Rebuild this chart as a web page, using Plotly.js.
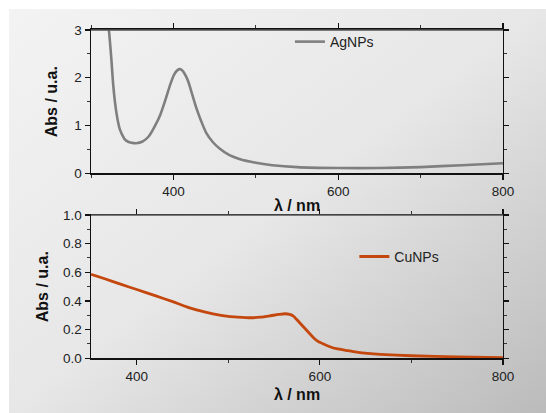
<!DOCTYPE html>
<html>
<head>
<meta charset="utf-8">
<script src="https://cdn.plot.ly/plotly-3.0.1.min.js"></script>
<style>
  html, body { margin: 0; padding: 0; background: #ffffff; }
  #wrap { position: relative; width: 546px; height: 413px; overflow: hidden; }
  #bg { position: absolute; left: 9px; top: 9px; width: 537px; height: 404px;
        background: linear-gradient(to bottom right, #f3f3f3 0%, #e7e7e7 50%, #bbbbbb 100%); }
  #chart { position: absolute; left: 0; top: 0; width: 546px; height: 413px; }
</style>
</head>
<body>
<div id="wrap"><div id="bg"></div><div id="chart"></div></div>
<script>
// AgNPs spectrum (top panel)
const agWavelength = [320, 322, 324.7, 326.7, 329, 331, 333, 335, 338, 341, 345, 349, 355, 362, 370, 377, 384, 390, 396, 401, 405, 408, 411, 415, 418, 422, 428, 434, 440, 448, 456, 468, 480, 500, 520, 550, 600, 650, 700, 750, 800];
const agAbs = [3.3, 2.95, 2.39, 1.90, 1.50, 1.25, 1.06, 0.92, 0.80, 0.71, 0.66, 0.64, 0.63, 0.66, 0.77, 0.97, 1.22, 1.52, 1.85, 2.07, 2.16, 2.18, 2.15, 2.04, 1.92, 1.70, 1.36, 1.08, 0.84, 0.65, 0.52, 0.38, 0.30, 0.22, 0.17, 0.13, 0.11, 0.11, 0.13, 0.17, 0.21];
// CuNPs spectrum (bottom panel)
const cuWavelength = [350, 365, 383, 400, 420, 440, 456, 475, 492, 500, 510, 524, 535, 546, 555, 562, 567, 571, 576, 582, 588, 593, 598, 604, 611, 618, 630, 640, 652, 666, 700, 750, 800];
const cuAbs = [0.586, 0.555, 0.516, 0.480, 0.437, 0.394, 0.356, 0.322, 0.300, 0.293, 0.288, 0.283, 0.287, 0.297, 0.306, 0.311, 0.306, 0.295, 0.262, 0.220, 0.178, 0.144, 0.118, 0.100, 0.081, 0.067, 0.054, 0.044, 0.035, 0.028, 0.018, 0.010, 0.005];
const agName = 'AgNPs';
const cuName = 'CuNPs';
const xTitle = 'λ / nm';
const yTitle = 'Abs / u.a.';

const tickFont = {family: 'Liberation Sans, Arial, sans-serif', size: 13.5, color: '#222222'};
const titleFont = {family: 'Liberation Sans, Arial, sans-serif', size: 16, color: '#111111', weight: 'bold'};
const legendFont = {family: 'Liberation Sans, Arial, sans-serif', size: 14, color: '#222222'};

function minorTicks(extra) {
  return Object.assign({ticks: 'outside', ticklen: 3, tickwidth: 1, tickcolor: '#333333', showgrid: false}, extra);
}
function axisBase(extra) {
  return Object.assign({
    showline: true, linecolor: '#111111', linewidth: 1.5, mirror: 'ticks',
    ticks: 'outside', ticklen: 5, tickwidth: 1.2, tickcolor: '#111111',
    showgrid: false, zeroline: false, tickfont: tickFont
  }, extra);
}

const traces = [
  {x: agWavelength, y: agAbs, type: 'scatter', mode: 'lines', name: agName,
   line: {color: '#7f7f7f', width: 2.6, shape: 'spline', smoothing: 0.6},
   xaxis: 'x', yaxis: 'y', legend: 'legend'},
  {x: cuWavelength, y: cuAbs, type: 'scatter', mode: 'lines', name: cuName,
   line: {color: '#c4470e', width: 2.8, shape: 'spline', smoothing: 0.6},
   xaxis: 'x2', yaxis: 'y2', legend: 'legend2'}
];

const layout = {
  width: 546, height: 413,
  margin: {l: 0, r: 0, t: 0, b: 0},
  paper_bgcolor: 'rgba(0,0,0,0)', plot_bgcolor: 'rgba(0,0,0,0)',
  showlegend: true,
  xaxis: axisBase({domain: [0.1667, 0.9212], anchor: 'y', range: [300, 800],
    tick0: 400, dtick: 200, minor: minorTicks({dtick: 100, tick0: 300}),
    title: {text: xTitle, font: titleFont, standoff: 2}}),
  yaxis: axisBase({domain: [0.5804, 0.9274], anchor: 'x', range: [0, 3],
    tick0: 0, dtick: 1, minor: minorTicks({dtick: 0.5}),
    title: {text: yTitle, font: titleFont, standoff: 12}}),
  xaxis2: axisBase({domain: [0.1667, 0.9212], anchor: 'y2', range: [350, 800],
    tick0: 400, dtick: 200, minor: minorTicks({dtick: 100, tick0: 400}),
    title: {text: xTitle, font: titleFont, standoff: 6}}),
  yaxis2: axisBase({domain: [0.1324, 0.4794], anchor: 'x2', range: [0, 1],
    tick0: 0, dtick: 0.2, tickformat: '.1f', minor: minorTicks({dtick: 0.1}),
    title: {text: yTitle, font: titleFont, standoff: 10}}),
  legend: {x: 0.531, y: 0.937, xanchor: 'left', yanchor: 'top', bgcolor: 'rgba(0,0,0,0)',
    font: legendFont, itemwidth: 30},
  legend2: {x: 0.649, y: 0.378, xanchor: 'left', yanchor: 'middle', bgcolor: 'rgba(0,0,0,0)',
    font: legendFont, itemwidth: 30},
  shapes: [
    {type: 'line', xref: 'x domain', yref: 'y domain', x0: 0, x1: 1, y0: 1, y1: 1, line: {color: '#555555', width: 1.5}},
    {type: 'line', xref: 'x2 domain', yref: 'y2 domain', x0: 0, x1: 1, y0: 1, y1: 1, line: {color: '#555555', width: 1.5}}
  ]
};

Plotly.newPlot('chart', traces, layout, {displayModeBar: false, staticPlot: true});
</script>
</body>
</html>
